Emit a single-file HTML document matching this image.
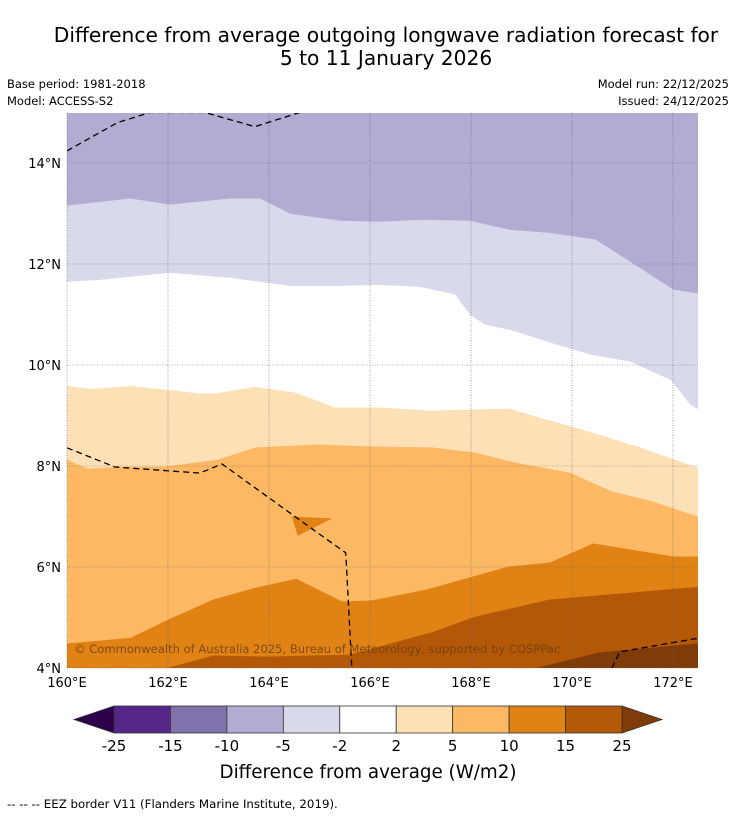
<!DOCTYPE html>
<html><head><meta charset="utf-8"><style>
html,body{margin:0;padding:0;background:#fff;}
body{width:736px;height:816px;overflow:hidden;font-family:"DejaVu Sans","Liberation Sans",sans-serif;}
text{font-family:"DejaVu Sans","Liberation Sans",sans-serif;}
</style></head><body>
<svg id="chart" width="736" height="816" viewBox="0 0 736 816" xmlns="http://www.w3.org/2000/svg">
<text x="386" y="42" font-size="20.2" text-anchor="middle">Difference from average outgoing longwave radiation forecast for</text>
<text x="386" y="65" font-size="20.2" text-anchor="middle">5 to 11 January 2026</text>
<text x="7" y="88" font-size="11.5">Base period: 1981-2018</text>
<text x="7" y="105" font-size="11.5">Model: ACCESS-S2</text>
<text x="729" y="88" font-size="11.5" text-anchor="end">Model run: 22/12/2025</text>
<text x="729" y="105" font-size="11.5" text-anchor="end">Issued: 24/12/2025</text>
<defs><clipPath id="plotclip"><rect x="67" y="113" width="631" height="555"/></clipPath></defs>
<g id="map" clip-path="url(#plotclip)"></g>
<g id="grid"></g>
<g id="axes"></g>
<text x="74" y="653" font-size="11.55" fill="#6e3f12" fill-opacity="0.85">© Commonwealth of Australia 2025, Bureau of Meteorology, supported by COSPPac</text>
<g id="cbar"></g>
<text x="368" y="778" font-size="18.3" text-anchor="middle">Difference from average (W/m2)</text>
<text x="7" y="808" font-size="11.8">--  --  -- EEZ border V11 (Flanders Marine Institute, 2019).</text>
</svg>
<script>
const NS="http://www.w3.org/2000/svg";
// axis extents
const lonMin=160, lonMax=172.5, latMin=4, latMax=15;
const lonTicks=[160,162,164,166,168,170,172];
const latTicks=[4,6,8,10,12,14];
// colour levels
const levels=["-25","-15","-10","-5","-2","2","5","10","15","25"];
const levelColors=["#542788","#8073ac","#b2abd2","#d8daeb","#ffffff","#fee0b6","#fdb863","#e08214","#b35806"];
const lowColor="#2d004b", highColor="#7f3b08";
// contour boundaries (lon, lat) — each separates band above from band below
const bndA_lon=[160,161.25,162.04,163.23,163.82,164.42,165.41,166.2,166.99,167.98,168.77,169.56,170.46,171.15,172,172.5];
const bndA_lat=[13.15,13.29,13.17,13.29,13.29,12.99,12.85,12.83,12.87,12.85,12.67,12.61,12.48,12.04,11.49,11.41];
const bndB_lon=[160,160.65,162.04,163.23,164.42,165.41,166.2,166.99,167.68,167.98,168.28,168.77,169.56,170.36,171.15,171.95,172.34,172.5];
const bndB_lat=[11.64,11.68,11.82,11.72,11.56,11.56,11.58,11.54,11.39,10.99,10.79,10.69,10.44,10.2,10.06,9.7,9.21,9.11];
const bndC_lon=[160,160.46,161.25,162.63,162.93,163.72,164.51,165.31,166.2,167.19,168.77,169.37,170.36,171.35,172.5];
const bndC_lat=[9.58,9.52,9.58,9.43,9.43,9.56,9.45,9.15,9.15,9.09,9.13,8.95,8.67,8.36,7.96];
const bndD_lon=[160,160.4,161.09,161.92,162.99,163.72,164.95,166.02,167.25,168.08,168.89,169.96,170.79,171.6,172.5];
const bndD_lat=[8.12,7.94,7.98,7.98,8.12,8.36,8.42,8.38,8.36,8.26,8.06,7.86,7.49,7.29,6.99];
const bndE_lon=[160,161.26,162.0,162.9,163.72,164.54,165.45,166.02,167.09,168.73,169.56,170.42,172.02,172.5];
const bndE_lat=[4.48,4.59,4.95,5.35,5.58,5.76,5.31,5.33,5.54,6.0,6.08,6.46,6.2,6.2];
const bndF_lon=[160,162.0,162.9,163.97,165.61,167.25,168.08,169.56,172.5];
const bndF_lat=[3.7,4.0,4.24,4.22,4.26,4.71,5.01,5.35,5.6];
const bndG_lon=[160,169.31,170.54,172.5];
const bndG_lat=[3.0,4.0,4.3,4.48];
// isolated warm patch (10-15 band)
const patch_lon=[164.45,165.25,164.57];
const patch_lat=[7.0,6.96,6.62];
// EEZ borders
const eez1_lon=[160,161.0,161.64,162.73,163.72,164.61];
const eez1_lat=[14.24,14.8,15.0,15.0,14.72,15.0];
const eez2_lon=[160,160.95,162.63,163.07,164.61,165.52,165.64];
const eez2_lat=[8.36,7.98,7.86,8.04,6.93,6.28,4.0];
const eez3_lon=[170.79,170.95,172.5];
const eez3_lat=[4.0,4.32,4.59];

const X0=67,X1=698.25,Y0=668,PX=50.5;
function xs(lon){return X0+(lon-lonMin)*PX;}
function ys(lat){return Y0-(lat-latMin)*PX;}
const map=document.getElementById('map');
function fillBelow(lons,lats,color,name){
  let d="M"+xs(lons[0])+","+ys(lats[0]);
  for(let i=1;i<lons.length;i++)d+="L"+xs(lons[i])+","+ys(lats[i]);
  d+="L"+xs(lonMax)+","+(Y0+10)+"L"+xs(lonMin)+","+(Y0+10)+"Z";
  const p=document.createElementNS(NS,'path');
  p.setAttribute('d',d);p.setAttribute('fill',color);
  p.setAttribute('stroke',color);p.setAttribute('stroke-width','0.6');
  
  
  map.appendChild(p);
}
const bg=document.createElementNS(NS,'rect');
bg.setAttribute('x',X0);bg.setAttribute('y',ys(latMax));bg.setAttribute('width',X1-X0);bg.setAttribute('height',Y0-ys(latMax));
bg.setAttribute('fill',levelColors[2]);


map.appendChild(bg);
fillBelow(bndA_lon,bndA_lat,levelColors[3],'band-minus5-minus2');
fillBelow(bndB_lon,bndB_lat,levelColors[4],'band-minus2-2');
fillBelow(bndC_lon,bndC_lat,levelColors[5],'band-2-5');
fillBelow(bndD_lon,bndD_lat,levelColors[6],'band-5-10');
fillBelow(bndE_lon,bndE_lat,levelColors[7],'band-10-15');
fillBelow(bndF_lon,bndF_lat,levelColors[8],'band-15-25');
fillBelow(bndG_lon,bndG_lat,highColor,'band-above-25');
(function(){
  const p=document.createElementNS(NS,'polygon');
  p.setAttribute('points',patch_lon.map((l,i)=>xs(l)+","+ys(patch_lat[i])).join(" "));
  p.setAttribute('fill',levelColors[7]);
  
  
  map.appendChild(p);
})();
function eez(lons,lats,name){
  const p=document.createElementNS(NS,'polyline');
  p.setAttribute('points',lons.map((l,i)=>xs(l)+","+ys(lats[i])).join(" "));
  p.setAttribute('fill','none');p.setAttribute('stroke','#000');p.setAttribute('stroke-width','1.3');p.setAttribute('stroke-dasharray','6,4');
  
  
  map.appendChild(p);
}
eez(eez1_lon,eez1_lat,'eez-border-north');
eez(eez2_lon,eez2_lat,'eez-border-west');
eez(eez3_lon,eez3_lat,'eez-border-southeast');
// grid + labels
const grid=document.getElementById('grid'),axes=document.getElementById('axes');
lonTicks.forEach(l=>{
  const ln=document.createElementNS(NS,'line');
  ln.setAttribute('x1',xs(l));ln.setAttribute('x2',xs(l));ln.setAttribute('y1',ys(latMax));ln.setAttribute('y2',Y0);
  ln.setAttribute('stroke','#666');ln.setAttribute('stroke-width','0.6');ln.setAttribute('stroke-dasharray','1,1.5');
  
  
  grid.appendChild(ln);
  const t=document.createElementNS(NS,'text');
  t.setAttribute('x',xs(l));t.setAttribute('y',Y0+19);t.setAttribute('font-size','13');t.setAttribute('text-anchor','middle');
  t.textContent=l+"°E";
  
  
  axes.appendChild(t);
});
latTicks.forEach(l=>{
  const ln=document.createElementNS(NS,'line');
  ln.setAttribute('x1',X0);ln.setAttribute('x2',X1);ln.setAttribute('y1',ys(l));ln.setAttribute('y2',ys(l));
  ln.setAttribute('stroke','#666');ln.setAttribute('stroke-width','0.6');ln.setAttribute('stroke-dasharray','1,1.5');
  
  
  grid.appendChild(ln);
  const t=document.createElementNS(NS,'text');
  t.setAttribute('x',61);t.setAttribute('y',ys(l)+5);t.setAttribute('font-size','13');t.setAttribute('text-anchor','end');
  t.textContent=l+"°N";
  
  
  axes.appendChild(t);
});
// colorbar
const cb=document.getElementById('cbar');
const cbX0=114,cbX1=622,cbY=706,cbH=27,n=levelColors.length,w=(cbX1-cbX0)/n;
function poly(pts,fill,name){
  const p=document.createElementNS(NS,'polygon');
  p.setAttribute('points',pts);p.setAttribute('fill',fill);p.setAttribute('stroke','#333');p.setAttribute('stroke-width','0.8');
  
  
  cb.appendChild(p);
}
poly(`${cbX0},${cbY} ${cbX0},${cbY+cbH} 74,${cbY+cbH/2}`,lowColor,'colorbar-low-arrow');
poly(`${cbX1},${cbY} ${cbX1},${cbY+cbH} 662,${cbY+cbH/2}`,highColor,'colorbar-high-arrow');
levelColors.forEach((c,i)=>{
  const r=document.createElementNS(NS,'rect');
  r.setAttribute('x',cbX0+i*w);r.setAttribute('y',cbY);r.setAttribute('width',w);r.setAttribute('height',cbH);
  r.setAttribute('fill',c);r.setAttribute('stroke','#333');r.setAttribute('stroke-width','0.8');
  
  
  cb.appendChild(r);
});
levels.forEach((lv,i)=>{
  const t=document.createElementNS(NS,'text');
  t.setAttribute('x',cbX0+i*w);t.setAttribute('y',751);t.setAttribute('font-size','15');t.setAttribute('text-anchor','middle');
  t.textContent=lv;
  
  
  cb.appendChild(t);
});
</script>
</body></html>
